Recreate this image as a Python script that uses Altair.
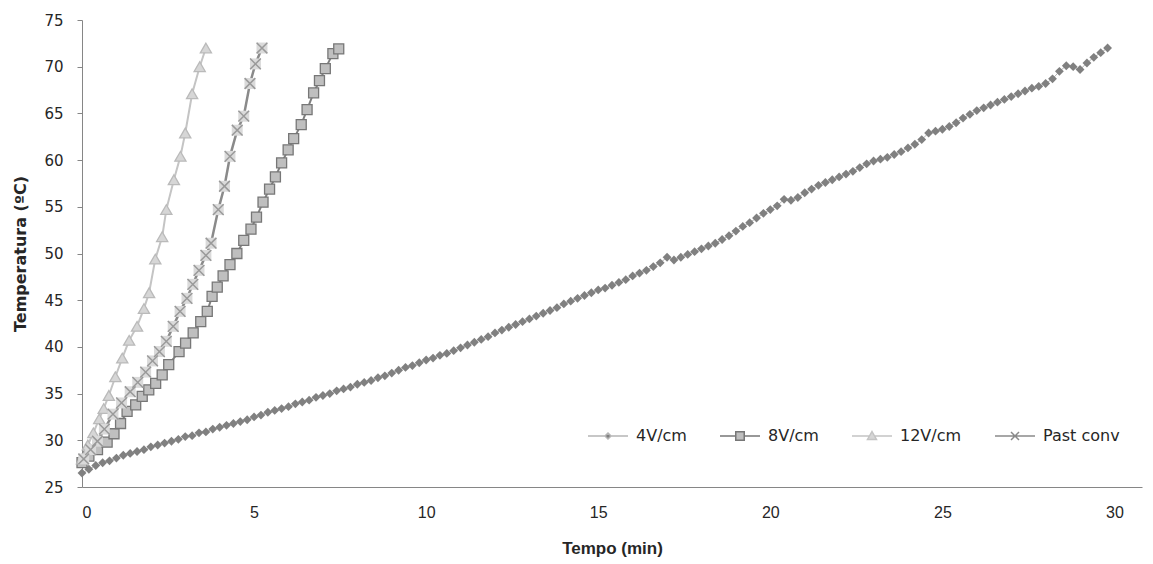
import altair as alt
import pandas as pd

# ---------------- data ----------------
SERIES = ["4V/cm", "8V/cm", "12V/cm", "Past conv"]

STEP_4V = 0.2  # sampling interval (min) of the 4V/cm run
temp_4v = [
    26.5, 26.9, 27.3, 27.6, 27.8, 28.1, 28.4, 28.6, 28.8, 29.0,
    29.3, 29.5, 29.7, 29.9, 30.1, 30.4, 30.5, 30.8, 30.9, 31.2,
    31.4, 31.6, 31.8, 32.0, 32.2, 32.5, 32.7, 33.0, 33.2, 33.4,
    33.6, 33.9, 34.1, 34.3, 34.6, 34.8, 35.0, 35.3, 35.5, 35.7,
    36.0, 36.2, 36.4, 36.7, 36.9, 37.2, 37.5, 37.8, 38.0, 38.3,
    38.6, 38.8, 39.1, 39.3, 39.6, 39.9, 40.2, 40.5, 40.8, 41.1,
    41.5, 41.8, 42.1, 42.4, 42.7, 43.0, 43.3, 43.6, 43.9, 44.2,
    44.6, 44.9, 45.2, 45.5, 45.8, 46.1, 46.3, 46.6, 46.9, 47.2,
    47.6, 47.9, 48.2, 48.6, 49.0, 49.6, 49.3, 49.6, 49.9, 50.2,
    50.5, 50.8, 51.1, 51.5, 51.9, 52.4, 52.9, 53.3, 53.8, 54.3,
    54.7, 55.1, 55.8, 55.7, 56.0, 56.5, 56.9, 57.3, 57.6, 57.9,
    58.2, 58.5, 58.8, 59.2, 59.6, 59.9, 60.1, 60.3, 60.6, 60.9,
    61.3, 61.7, 62.2, 62.9, 63.1, 63.3, 63.6, 64.0, 64.5, 64.9,
    65.3, 65.6, 65.9, 66.2, 66.5, 66.8, 67.1, 67.4, 67.7, 67.9,
    68.2, 68.7, 69.5, 70.1, 70.0, 69.7, 70.4, 71.0, 71.5, 72.0,
]
time_4v = [round(i * STEP_4V, 2) for i in range(len(temp_4v))]

time_8v = [0.0, 0.2, 0.45, 0.73, 0.93, 1.12, 1.31, 1.56, 1.75, 1.94,
           2.14, 2.33, 2.52, 2.82, 3.01, 3.23, 3.45, 3.64, 3.78, 3.93,
           4.1, 4.3, 4.5, 4.7, 4.91, 5.07, 5.26, 5.45, 5.62, 5.8,
           5.99, 6.15, 6.37, 6.54, 6.73, 6.9, 7.07, 7.29, 7.46]
temp_8v = [27.6, 28.3, 29.0, 29.8, 30.7, 31.8, 33.1, 33.8, 34.7, 35.4,
           36.1, 37.0, 38.1, 39.5, 40.4, 41.5, 42.7, 43.8, 45.4, 46.4,
           47.6, 48.8, 50.0, 51.4, 52.6, 53.9, 55.5, 56.9, 58.2, 59.7,
           61.1, 62.3, 63.8, 65.4, 67.2, 68.5, 69.8, 71.4, 71.9]

time_12v = [0.0, 0.17, 0.33, 0.5, 0.63, 0.78, 0.97, 1.17, 1.37, 1.6,
            1.8, 1.95, 2.13, 2.33, 2.45, 2.67, 2.86, 3.0, 3.2, 3.42, 3.6]
temp_12v = [28.0, 29.5, 30.8, 32.3, 33.4, 34.8, 36.8, 38.8, 40.7, 42.2,
            44.1, 45.8, 49.4, 51.8, 54.7, 57.9, 60.4, 62.9, 67.1, 70.0, 72.0]

time_past = [0.05, 0.25, 0.45, 0.65, 0.9, 1.15, 1.4, 1.62, 1.85, 2.05,
             2.25, 2.45, 2.65, 2.85, 3.05, 3.22, 3.4, 3.6, 3.75, 3.96,
             4.14, 4.3, 4.51, 4.7, 4.88, 5.04, 5.23]
temp_past = [28.0, 29.0, 29.9, 31.2, 32.8, 34.0, 35.2, 36.2, 37.3, 38.5,
             39.5, 40.6, 42.2, 43.8, 45.2, 46.7, 48.2, 49.8, 51.1, 54.7,
             57.2, 60.4, 63.2, 64.7, 68.2, 70.3, 72.0]

X_TICKS = [0, 5, 10, 15, 20, 25, 30]
Y_TICKS = [25, 30, 35, 40, 45, 50, 55, 60, 65, 70, 75]

# ---------------- chart ----------------
def frame(t, v):
    return pd.DataFrame({"t": t, "T": v})

df4, df8, df12, dfp = frame(time_4v, temp_4v), frame(time_8v, temp_8v), \
    frame(time_12v, temp_12v), frame(time_past, temp_past)

AX = "#868686"
TXT = "#262626"
NARROW = "'Liberation Sans Narrow', 'Liberation Sans', sans-serif"
x_enc = alt.X("t:Q", scale=alt.Scale(domain=[0, 30.8], nice=False, zero=False),
              axis=alt.Axis(values=X_TICKS, title="Tempo (min)", ticks=False, grid=False,
                            domainColor=AX, labelFont=NARROW,
                            labelFontSize=16, labelColor=TXT, labelPadding=17,
                            titleFont=NARROW, titleFontSize=17, titleFontWeight="bold",
                            titleColor=TXT, titlePadding=20))
y_enc = alt.Y("T:Q", scale=alt.Scale(domain=[25, 75], nice=False, zero=False),
              axis=alt.Axis(values=Y_TICKS, title="Temperatura (ºC)", grid=False,
                            domainColor=AX, tickColor=AX, tickSize=5,
                            labelFont="DejaVu Sans", labelFontSize=15, labelColor=TXT,
                            labelPadding=14, titleFont="DejaVu Sans", titleFontSize=16,
                            titleFontWeight="bold", titleColor=TXT, titlePadding=15))

def line(df, color, width):
    return alt.Chart(df).mark_line(color=color, strokeWidth=width).encode(x=x_enc, y=y_enc)

def pts(df, shape, size, fill=None, stroke=None, sw=1.0):
    kw = dict(shape=shape, size=size, opacity=1, strokeWidth=sw)
    if fill is None:
        kw.update(filled=False, stroke=stroke)
    else:
        kw.update(filled=True, fill=fill)
        if stroke is not None:
            kw.update(stroke=stroke)
    return alt.Chart(df).mark_point(**kw).encode(x=x_enc, y=y_enc)

X_PATH = "M-1,-1L1,1M-1,1L1,-1"

layers = [
    line(df4, "#b5b5b5", 1),
    pts(df4, "diamond", 78, fill="#808080"),
    line(df8, "#7f7f7f", 2),
    pts(df8, "square", 100, fill="#bfbfbf", stroke="#777777", sw=1.3),
    line(df12, "#c4c4c4", 2),
    pts(df12, "triangle-up", 125, fill="#d6d6d6", stroke="#bababa", sw=1.3),
    line(dfp, "#8a8a8a", 2.5),
    pts(dfp, "square", 120, fill="#dadada"),
    pts(dfp, X_PATH, 115, stroke="#9a9a9a", sw=1.5),
]

# legend (line segment + marker symbols), drawn by the legend from scales only
LEG_PATHS = [
    "M-4,0H-0.6M0.6,0H4M0,-0.6L0.6,0L0,0.6L-0.6,0Z",
    "M-4,0H-0.85M0.85,0H4M-0.85,-0.85H0.85V0.85H-0.85Z",
    "M-4,0H-0.55M0.55,0H4M0,-0.9L0.9,0.7H-0.9Z",
    "M-4,0H4M-0.8,-0.8L0.8,0.8M-0.8,0.8L0.8,-0.8",
]
LEG_FILL = ["#7f7f7f", "#bfbfbf", "#d6d6d6", "#d9d9d9"]
LEG_STROKE = ["#b5b5b5", "#777777", "#c4c4c4", "#8a8a8a"]

leg = alt.Legend(title=None, orient="none", legendX=503, legendY=408, direction="horizontal",
                 columns=4, symbolSize=100, symbolStrokeWidth=1.5, symbolOffset=15,
                 labelOffset=20, columnPadding=30, labelFont="DejaVu Sans", labelFontSize=16,
                 labelColor=TXT, symbolOpacity=1)

legend_layer = alt.Chart(pd.DataFrame({"s": SERIES})).transform_filter("false").mark_point(
    filled=True, size=100, opacity=1, strokeWidth=1.5
).encode(
    shape=alt.Shape("s:N", scale=alt.Scale(domain=SERIES, range=LEG_PATHS), legend=leg),
    fill=alt.Fill("s:N", scale=alt.Scale(domain=SERIES, range=LEG_FILL), legend=leg),
    stroke=alt.Stroke("s:N", scale=alt.Scale(domain=SERIES, range=LEG_STROKE), legend=leg),
)

chart = alt.layer(*layers, legend_layer).properties(
    width=1060, height=467,
    autosize=alt.AutoSizeParams(type="none"),
    padding={"left": 74, "top": 12, "right": 2, "bottom": 70},
).configure_view(stroke=None)

chart.save("out.html", embed_options={"renderer": "svg", "actions": False})
